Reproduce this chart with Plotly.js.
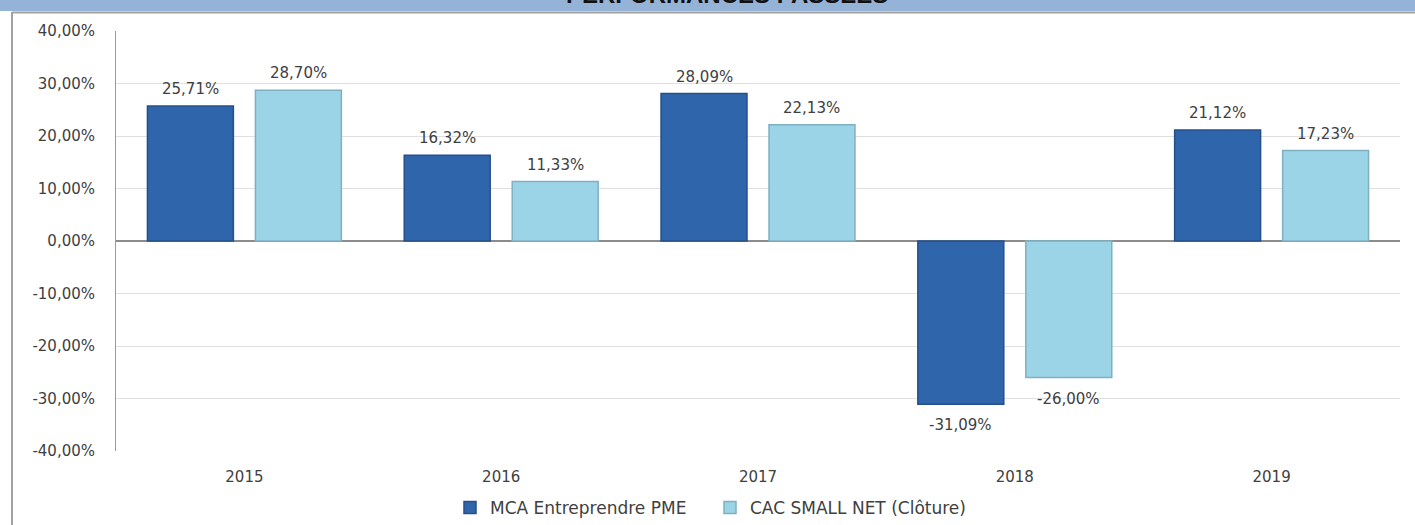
<!DOCTYPE html>
<html>
<head>
<meta charset="utf-8">
<script src="https://cdn.plot.ly/plotly-3.0.1.min.js"></script>
<style>
html,body{margin:0;padding:0;background:#fff;}
#chart{width:1415px;height:525px;}
</style>
</head>
<body>
<div id="chart"></div>
<script>
const categories = ["2015", "2016", "2017", "2018", "2019"];
const seriesNames = ["MCA Entreprendre PME", "CAC SMALL NET (Clôture)"];
const mcaValues = [25.71, 16.32, 28.09, -31.09, 21.12];
const cacValues = [28.70, 11.33, 22.13, -26.00, 17.23];
const chartTitle = "PERFORMANCES PASSÉES";
const yTickValues = [-40, -30, -20, -10, 0, 10, 20, 30, 40];

const W = 1415, H = 525;
const M = {l: 116, r: 15, t: 31, b: 74, autoexpand: false};
const plotW = W - M.l - M.r, plotH = H - M.t - M.b;
const px2x = p => (p - M.l) / plotW;
const py2y = p => (H - M.b - p) / plotH;

const BARGAP = 0.159, GROUPGAP = 0.204;
const catW = plotW / categories.length;
const slotOffset = catW * (1 - BARGAP) / 4;

const fmt = v => v.toFixed(2).replace('.', ',') + '%';
const labelFont = {family: "DejaVu Sans", size: 15, color: "#404040"};

const traces = [
  {
    type: "bar", name: seriesNames[0], x: categories, y: mcaValues,
    marker: {color: "#2f66ab", line: {color: "#24508a", width: 1.5}},
    hoverinfo: "none"
  },
  {
    type: "bar", name: seriesNames[1], x: categories, y: cacValues,
    marker: {color: "#9bd4e6", line: {color: "#7fb0c2", width: 1.5}},
    hoverinfo: "none"
  }
];

function labelAnn(idx, v, shiftX) {
  return {
    x: idx, y: v, xref: "x", yref: "y", text: fmt(v), showarrow: false,
    xshift: shiftX, yanchor: v >= 0 ? "bottom" : "top", yshift: v >= 0 ? 6 : -10,
    font: labelFont
  };
}
const dataLabels = [];
categories.forEach((c, i) => {
  dataLabels.push(labelAnn(i, mcaValues[i], -slotOffset));
  dataLabels.push(labelAnn(i, cacValues[i], slotOffset));
});

const layout = {
  width: W, height: H,
  margin: M,
  paper_bgcolor: "#ffffff", plot_bgcolor: "#ffffff",
  barmode: "group", bargap: BARGAP, bargroupgap: GROUPGAP,
  showlegend: true,
  legend: {
    orientation: "h", x: px2x(450), xanchor: "left", y: py2y(508), yanchor: "middle",
    font: {family: "DejaVu Sans", size: 17, color: "#404040"},
    itemwidth: 30, entrywidth: 215, traceorder: "normal"
  },
  xaxis: {
    type: "category", categoryorder: "array", categoryarray: categories,
    range: [-0.5, categories.length - 0.5], autorange: false,
    showgrid: false, zeroline: false, showline: false,
    ticks: "", tickfont: {family: "DejaVu Sans", size: 15, color: "#404040"},
    ticklabelstandoff: 15, fixedrange: true
  },
  yaxis: {
    range: [-40, 40], autorange: false, tickvals: yTickValues,
    ticktext: yTickValues.map(v => v.toFixed(2).replace('.', ',') + '%'),
    showgrid: true, gridcolor: "#e0e0e0", gridwidth: 1,
    zeroline: true, zerolinecolor: "#8c8c8c", zerolinewidth: 1.2,
    showline: true, linecolor: "#9a9a9a", linewidth: 1,
    ticks: "",
    tickfont: {family: "DejaVu Sans", size: 15, color: "#404040"},
    ticklabelstandoff: 17, fixedrange: true
  },
  shapes: [
    {type: "rect", xref: "paper", yref: "paper", x0: px2x(0), x1: px2x(W), y0: py2y(0), y1: py2y(11),
     fillcolor: "#95b3d7", line: {width: 0}, layer: "below"},
    {type: "line", xref: "paper", yref: "paper", x0: px2x(12), x1: px2x(W), y0: py2y(12.5), y1: py2y(12.5),
     line: {color: "#a0a0a0", width: 2}},
    {type: "line", xref: "paper", yref: "paper", x0: px2x(12), x1: px2x(12), y0: py2y(12), y1: py2y(H),
     line: {color: "#a0a0a0", width: 2}}
  ],
  annotations: [
    {text: "<b>" + chartTitle + "</b>", xref: "paper", yref: "paper", x: px2x(727), y: py2y(10),
     xanchor: "center", yanchor: "bottom", showarrow: false,
     font: {family: "Liberation Sans", size: 24, color: "#111111"}}
  ].concat(dataLabels)
};

Plotly.newPlot("chart", traces, layout, {displayModeBar: false, staticPlot: true});
</script>
</body>
</html>
